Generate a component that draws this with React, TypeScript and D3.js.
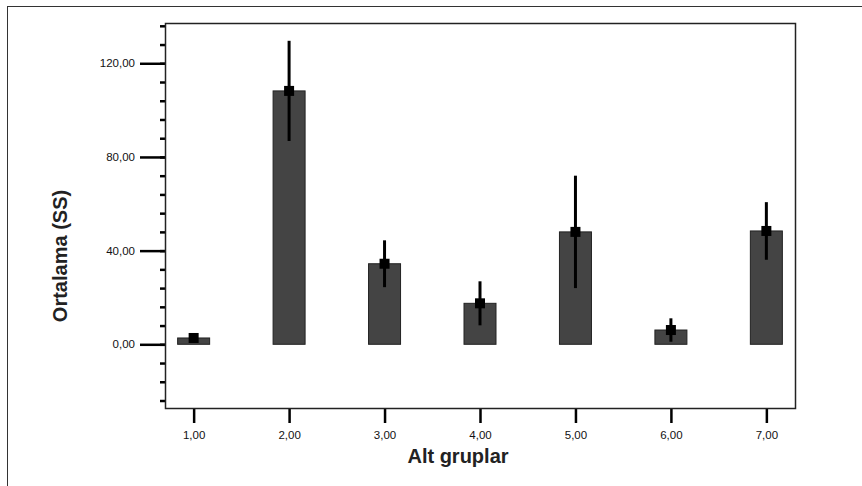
import React, { useEffect, useRef } from "react";
import * as d3 from "d3";

const W = 862;
const H = 486;
const PLOT = { LEFT: 165, RIGHT: 795, TOP: 23, BOTTOM: 408 };

// groups on the x axis and the mean / half error bar
const groups = [1, 2, 3, 4, 5, 6, 7];
const means = [2.7, 108.2, 34.4, 17.5, 48.0, 6.1, 48.4];
const errors = [1.5, 21.4, 10.0, 9.4, 24.0, 5.0, 12.3];
const majorTicks = [0, 40, 80, 120];
const minorTicks = d3.range(-24, 137, 8);

const FONT = "Arial, 'Liberation Sans', sans-serif";
const fmt = (d: number) => d3.format(".2f")(d).replace(".", ",");

export default function App() {
  const ref = useRef<SVGSVGElement | null>(null);

  useEffect(() => {
    const svg = d3.select(ref.current);
    svg.selectAll("*").remove();

    const x = d3.scaleLinear().domain([0.7, 7.3]).range([PLOT.LEFT, PLOT.RIGHT]);
    const y = d3.scaleLinear().domain([-27.2, 137.2]).range([PLOT.BOTTOM, PLOT.TOP]);
    const barW = 32;

    svg.append("rect").attr("width", W).attr("height", H).attr("fill", "#fff");

    // outer frame (only top and left show inside the picture)
    svg
      .append("rect")
      .attr("x", 7.5)
      .attr("y", 6.5)
      .attr("width", 900)
      .attr("height", 600)
      .attr("fill", "none")
      .attr("stroke", "#333")
      .attr("stroke-width", 1);

    // y axis: minor ticks then major ticks
    const minor = svg
      .append("g")
      .attr("transform", `translate(${PLOT.LEFT},0)`)
      .call(d3.axisLeft(y).tickValues(minorTicks).tickSize(5).tickFormat(() => ""));
    minor.select(".domain").remove();
    minor.selectAll("line").attr("stroke", "#000").attr("stroke-width", 2.5);

    const major = svg
      .append("g")
      .attr("transform", `translate(${PLOT.LEFT},0)`)
      .call(
        d3
          .axisLeft(y)
          .tickValues(majorTicks)
          .tickSize(25)
          .tickPadding(5)
          .tickFormat((d) => fmt(+d))
      );
    major.select(".domain").remove();
    major.selectAll("line").attr("stroke", "#000").attr("stroke-width", 2.5);
    major
      .selectAll("text")
      .attr("font-family", FONT)
      .attr("font-size", 11.5)
      .attr("fill", "#111");

    // x axis
    const xa = svg
      .append("g")
      .attr("transform", `translate(0,${PLOT.BOTTOM})`)
      .call(
        d3
          .axisBottom(x)
          .tickValues(groups)
          .tickSize(15)
          .tickPadding(8)
          .tickFormat((d) => fmt(+d))
      );
    xa.select(".domain").remove();
    xa.selectAll("line").attr("stroke", "#000").attr("stroke-width", 2.5);
    xa.selectAll("text")
      .attr("font-family", FONT)
      .attr("font-size", 11.5)
      .attr("fill", "#111");

    // bars
    svg
      .append("g")
      .selectAll("rect")
      .data(groups)
      .enter()
      .append("rect")
      .attr("x", (d) => x(d) - barW / 2)
      .attr("width", barW)
      .attr("y", (d, i) => y(means[i]))
      .attr("height", (d, i) => y(0) - y(means[i]))
      .attr("fill", "#444")
      .attr("stroke", "#222")
      .attr("stroke-width", 1);

    // error bars
    svg
      .append("g")
      .selectAll("line")
      .data(groups)
      .enter()
      .append("line")
      .attr("x1", (d) => x(d))
      .attr("x2", (d) => x(d))
      .attr("y1", (d, i) => y(means[i] + errors[i]))
      .attr("y2", (d, i) => y(means[i] - errors[i]))
      .attr("stroke", "#000")
      .attr("stroke-width", 3);

    // mean markers
    svg
      .append("g")
      .selectAll("rect")
      .data(groups)
      .enter()
      .append("rect")
      .attr("x", (d) => x(d) - 5)
      .attr("y", (d, i) => y(means[i]) - 5)
      .attr("width", 10)
      .attr("height", 10)
      .attr("fill", "#000");

    // plot frame
    svg
      .append("rect")
      .attr("x", PLOT.LEFT + 0.5)
      .attr("y", PLOT.TOP + 0.5)
      .attr("width", PLOT.RIGHT - PLOT.LEFT)
      .attr("height", PLOT.BOTTOM - PLOT.TOP)
      .attr("fill", "none")
      .attr("stroke", "#222")
      .attr("stroke-width", 1.5);

    // axis titles
    svg
      .append("text")
      .attr("x", 458)
      .attr("y", 463)
      .attr("text-anchor", "middle")
      .attr("font-family", FONT)
      .attr("font-weight", "bold")
      .attr("font-size", 20)
      .attr("fill", "#222")
      .text("Alt gruplar");

    svg
      .append("text")
      .attr("transform", "translate(67,256) rotate(-90)")
      .attr("text-anchor", "middle")
      .attr("font-family", FONT)
      .attr("font-weight", "bold")
      .attr("font-size", 20)
      .attr("fill", "#222")
      .text("Ortalama (SS)");
  }, []);

  return (
    <svg
      ref={ref}
      width={W}
      height={H}
      style={{ position: "absolute", left: 0, top: 0, display: "block" }}
    />
  );
}
